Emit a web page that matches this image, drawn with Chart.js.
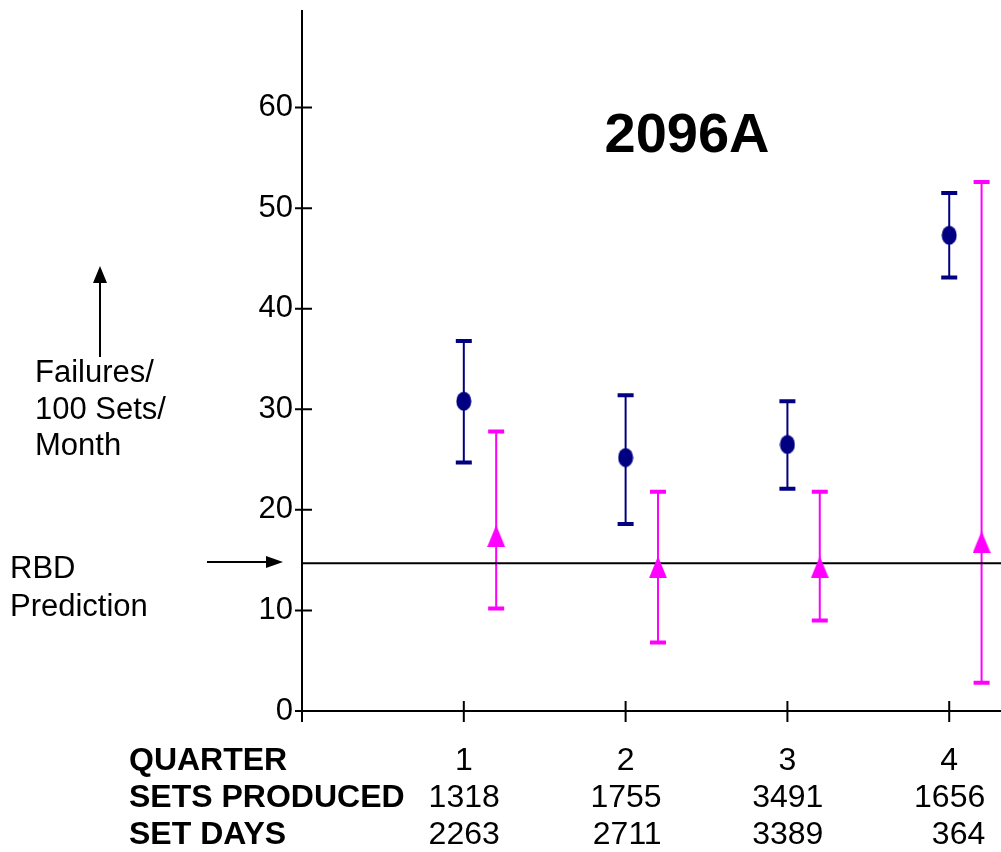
<!DOCTYPE html>
<html>
<head>
<meta charset="utf-8">
<script src="https://cdn.jsdelivr.net/npm/chart.js@4/dist/chart.umd.min.js"></script>
<style>
  html, body { margin: 0; padding: 0; background: #fff; overflow: hidden; }
  canvas { display: block; }
</style>
</head>
<body>
<canvas id="chart" width="1001" height="852"></canvas>
<script>
// quarters and measured values (failures / 100 sets / month)
const quarters = [1, 2, 3, 4];
const fieldMean = [30.8, 25.2, 26.5, 47.3];
const fieldLow = [24.7, 18.6, 22.1, 43.1];
const fieldHigh = [36.8, 31.4, 30.8, 51.5];
const predMean = [17.4, 14.3, 14.3, 16.8];
const predLow = [10.2, 6.8, 9.0, 2.8];
const predHigh = [27.8, 21.8, 21.8, 52.6];
const rbdPrediction = 14.7;
const setsProduced = ['1318', '1755', '3491', '1656'];
const setDays = ['2263', '2711', '3389', '364'];
const yTicks = [0, 10, 20, 30, 40, 50, 60];

const NAVY = '#000080';
const PINK = '#ff00ff';
const FONT = '"Liberation Sans", Arial, sans-serif';

Chart.defaults.font.family = FONT;

// marker images
const dot = document.createElement('canvas');
dot.width = 16; dot.height = 20;
(function () {
    const c = dot.getContext('2d');
    c.fillStyle = NAVY;
    c.beginPath();
    c.ellipse(8, 10, 7.5, 9.5, 0, 0, Math.PI * 2);
    c.fill();
})();

const tri = document.createElement('canvas');
tri.width = 18; tri.height = 22;
(function () {
    const c = tri.getContext('2d');
    c.fillStyle = PINK;
    c.beginPath();
    c.moveTo(9, 0);
    c.lineTo(18, 22);
    c.lineTo(0, 22);
    c.closePath();
    c.fill();
})();

const errorBars = {
    id: 'errorBars',
    beforeDatasetsDraw(chart) {
        const { ctx, scales: { x, y } } = chart;
        const draw = (xs, lows, highs, color) => {
            ctx.save();
            ctx.strokeStyle = color;
            xs.forEach((q, i) => {
                const px = x.getPixelForValue(q);
                const lo = y.getPixelForValue(lows[i]);
                const hi = y.getPixelForValue(highs[i]);
                ctx.lineWidth = 2;
                ctx.beginPath();
                ctx.moveTo(px, lo);
                ctx.lineTo(px, hi);
                ctx.stroke();
                ctx.lineWidth = 4;
                ctx.beginPath();
                ctx.moveTo(px - 8, lo); ctx.lineTo(px + 8, lo);
                ctx.moveTo(px - 8, hi); ctx.lineTo(px + 8, hi);
                ctx.stroke();
            });
            ctx.restore();
        };
        draw(quarters, fieldLow, fieldHigh, NAVY);
        draw(quarters.map(q => q + 0.2), predLow, predHigh, PINK);
    }
};

const axesAndText = {
    id: 'axesAndText',
    afterDraw(chart) {
        const { ctx, chartArea, scales: { x, y } } = chart;
        const left = chartArea.left;
        const base = y.getPixelForValue(0);
        ctx.save();
        ctx.strokeStyle = '#000';
        ctx.lineWidth = 2;
        ctx.beginPath();
        ctx.moveTo(left, chartArea.top);
        ctx.lineTo(left, base + 11);
        ctx.moveTo(left, base);
        ctx.lineTo(chart.width, base);
        yTicks.forEach(v => {
            const py = y.getPixelForValue(v);
            ctx.moveTo(left - 7, py);
            ctx.lineTo(left + 10, py);
        });
        quarters.forEach(q => {
            const px = x.getPixelForValue(q);
            ctx.moveTo(px, base - 10);
            ctx.lineTo(px, base + 11);
        });
        ctx.stroke();

        // title
        ctx.fillStyle = '#000';
        ctx.font = 'bold 56px ' + FONT;
        ctx.textAlign = 'center';
        ctx.textBaseline = 'alphabetic';
        ctx.fillText('2096A', 687, 152);

        // left notes
        ctx.font = '31px ' + FONT;
        ctx.textAlign = 'left';
        ['Failures/', '100 Sets/', 'Month'].forEach((t, i) => ctx.fillText(t, 35, 382 + i * 36.5));
        ['RBD', 'Prediction'].forEach((t, i) => ctx.fillText(t, 10, 578 + i * 38));

        // arrows
        ctx.lineWidth = 2;
        ctx.beginPath();
        ctx.moveTo(100, 357); ctx.lineTo(100, 280);
        ctx.moveTo(207, 562); ctx.lineTo(268, 562);
        ctx.stroke();
        ctx.beginPath();
        ctx.moveTo(100, 266); ctx.lineTo(107, 283); ctx.lineTo(93, 283); ctx.closePath();
        ctx.moveTo(283, 562); ctx.lineTo(266, 556); ctx.lineTo(266, 568); ctx.closePath();
        ctx.fill();

        // table under the axis
        const rows = [770, 807, 844];
        ctx.font = 'bold 32px ' + FONT;
        ['QUARTER', 'SETS PRODUCED', 'SET DAYS'].forEach((t, i) => ctx.fillText(t, 129, rows[i]));
        ctx.font = '32px ' + FONT;
        quarters.forEach((q, i) => {
            const px = x.getPixelForValue(q);
            ctx.textAlign = 'center';
            ctx.fillText(String(q), px, rows[0]);
            ctx.textAlign = 'right';
            ctx.fillText(setsProduced[i], px + 36, rows[1]);
            ctx.fillText(setDays[i], px + 36, rows[2]);
        });
        ctx.restore();
    }
};

new Chart(document.getElementById('chart'), {
    type: 'scatter',
    data: {
        datasets: [
            {
                label: 'Field',
                data: quarters.map((q, i) => ({ x: q, y: fieldMean[i] })),
                pointStyle: dot,
            },
            {
                label: 'Predicted',
                data: quarters.map((q, i) => ({ x: q + 0.2, y: predMean[i] })),
                pointStyle: tri,
            },
            {
                label: 'RBD',
                type: 'line',
                data: [{ x: 0, y: rbdPrediction }, { x: 4.32, y: rbdPrediction }],
                borderColor: '#000',
                borderWidth: 2,
                pointRadius: 0,
                fill: false,
            },
        ],
    },
    options: {
        responsive: false,
        animation: false,
        layout: { autoPadding: false, padding: { top: 10, bottom: 141, left: 0, right: 0 } },
        scales: {
            x: {
                type: 'linear',
                min: 0,
                max: 4.32,
                display: false,
            },
            y: {
                min: 0,
                max: 69.7,
                grid: { display: false, drawTicks: false },
                border: { display: false },
                ticks: {
                    stepSize: 10,
                    includeBounds: false,
                    padding: 9,
                    color: '#000',
                    font: { size: 31 },
                },
                afterFit: (scale) => {
                    scale.width = 302;
                    scale.paddingTop = 0;
                    scale.paddingBottom = 0;
                },
            },
        },
        plugins: {
            legend: { display: false },
            tooltip: { enabled: false },
        },
    },
    plugins: [errorBars, axesAndText],
});
</script>
</body>
</html>
